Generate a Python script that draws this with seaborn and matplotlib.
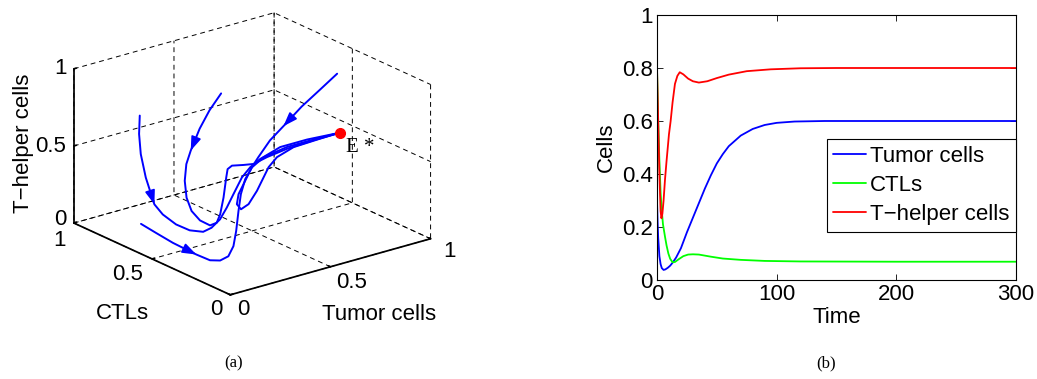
import numpy as np
import pandas as pd
import seaborn as sns
import matplotlib
matplotlib.use('Agg')
import matplotlib.pyplot as plt
from mpl_toolkits.mplot3d import proj3d

# ---- time series (panel b) ----
t_tumor = [0, 0.5, 1, 2, 3, 4, 5.5, 7, 9, 11, 13, 16, 20, 25, 30, 35, 40, 45, 50, 55, 60, 70, 80, 90, 100, 115, 140, 200, 300]
v_tumor = [0.30, 0.22, 0.16, 0.09, 0.06, 0.045, 0.038, 0.04, 0.046, 0.054, 0.065, 0.085, 0.12, 0.18, 0.235, 0.29, 0.345, 0.395, 0.44, 0.475, 0.505, 0.545, 0.57, 0.585, 0.593, 0.598, 0.60, 0.60, 0.60]

t_ctl = [0, 1, 2, 3, 4, 5, 6.7, 8, 9.5, 11, 13, 15, 18, 22, 26, 30, 35, 45, 55, 70, 90, 120, 200, 300]
v_ctl = [0.80, 0.60, 0.45, 0.33, 0.26, 0.21, 0.163, 0.13, 0.10, 0.08, 0.067, 0.068, 0.078, 0.09, 0.096, 0.097, 0.096, 0.088, 0.081, 0.076, 0.072, 0.070, 0.069, 0.069]

t_th = [0, 1, 2, 3, 3.7, 4.5, 5.5, 6.7, 8, 10, 11.4, 13, 15, 17, 19, 22, 26, 30, 35, 42, 50, 60, 75, 95, 120, 150, 200, 300]
v_th = [0.80, 0.60, 0.40, 0.26, 0.233, 0.25, 0.30, 0.38, 0.45, 0.55, 0.60, 0.67, 0.74, 0.77, 0.784, 0.776, 0.76, 0.75, 0.745, 0.75, 0.762, 0.775, 0.788, 0.795, 0.799, 0.80, 0.80, 0.80]

series_names = ['Tumor cells', 'CTLs', 'T\u2212helper cells']
series_colors = ['blue', '#00ff00', 'red']

# ---- phase trajectories (panel a): tumor (x), CTLs (y), T-helper (z) ----
traj_a_x = [0.924, 0.791, 0.653, 0.515, 0.409, 0.312, 0.248, 0.184, 0.127, 0.103, 0.112, 0.142, 0.18, 0.213, 0.238, 0.28, 0.367, 0.504, 0.6]
traj_a_y = [0.5, 0.44, 0.38, 0.32, 0.27, 0.22, 0.18, 0.14, 0.11, 0.09, 0.075, 0.065, 0.06, 0.06, 0.06, 0.06, 0.065, 0.07, 0.07]
traj_a_z = [0.865, 0.837, 0.806, 0.757, 0.727, 0.677, 0.653, 0.608, 0.555, 0.508, 0.479, 0.506, 0.581, 0.656, 0.713, 0.763, 0.794, 0.797, 0.8]

traj_b_x = [0.501, 0.404, 0.30, 0.193, 0.132, 0.085, 0.055, 0.041, 0.044, 0.055, 0.057, 0.051, 0.052, 0.05, 0.049, 0.063, 0.113, 0.159, 0.226, 0.33, 0.467, 0.6]
traj_b_y = [0.7, 0.65, 0.58, 0.5, 0.45, 0.4, 0.35, 0.3, 0.25, 0.2, 0.16, 0.13, 0.11, 0.09, 0.08, 0.07, 0.06, 0.055, 0.055, 0.06, 0.065, 0.07]
traj_b_z = [0.798, 0.747, 0.698, 0.632, 0.590, 0.522, 0.447, 0.389, 0.35, 0.337, 0.372, 0.443, 0.56, 0.701, 0.76, 0.782, 0.773, 0.765, 0.785, 0.799, 0.802, 0.8]

traj_c_x = [0.251, 0.232, 0.217, 0.203, 0.199, 0.194, 0.198, 0.188, 0.177, 0.156, 0.136, 0.123, 0.117, 0.136, 0.162, 0.204, 0.304, 0.438, 0.6]
traj_c_y = [0.9, 0.88, 0.85, 0.8, 0.74, 0.68, 0.6, 0.5, 0.4, 0.32, 0.24, 0.18, 0.13, 0.1, 0.08, 0.07, 0.07, 0.07, 0.07]
traj_c_z = [0.652, 0.549, 0.438, 0.314, 0.170, 0.134, 0.105, 0.117, 0.158, 0.229, 0.328, 0.437, 0.549, 0.665, 0.731, 0.774, 0.815, 0.815, 0.8]

traj_d_x = [0.14, 0.16, 0.143, 0.143, 0.133, 0.121, 0.123, 0.125, 0.123, 0.119, 0.123, 0.137, 0.167, 0.221, 0.338, 0.471, 0.6]
traj_d_y = [0.75, 0.68, 0.55, 0.4, 0.3, 0.22, 0.17, 0.14, 0.12, 0.1, 0.09, 0.08, 0.075, 0.07, 0.07, 0.07, 0.07]
traj_d_z = [0.06, 0.027, 0.029, 0.023, 0.036, 0.076, 0.126, 0.205, 0.313, 0.454, 0.566, 0.663, 0.731, 0.779, 0.803, 0.803, 0.8]

# index of the point where each trajectory carries its arrow head
arrow_idx = [3, 3, 4, 3]

trajectories = [(traj_a_x, traj_a_y, traj_a_z),
                (traj_b_x, traj_b_y, traj_b_z),
                (traj_c_x, traj_c_y, traj_c_z),
                (traj_d_x, traj_d_y, traj_d_z)]

eq_point = (0.6, 0.07, 0.8)

tick_vals = [0, 0.5, 1]
tick_text = ['0', '0.5', '1']

sns.set_theme(style='white')
plt.rcParams['font.family'] = ['Liberation Sans', 'DejaVu Sans']
plt.rcParams.update({'text.color': 'black', 'axes.labelcolor': 'black',
                     'xtick.color': 'black', 'ytick.color': 'black',
                     'axes.edgecolor': 'black'})

fs = 16

fig = plt.figure(figsize=(10.37, 3.79), dpi=100)

# ---------------- panel (a): 3D phase portrait ----------------
L = 400
cx, cy = 0.238, 0.58
ax3 = fig.add_axes([cx - L / 1037 / 2, cy - L / 379 / 2, L / 1037, L / 379], projection='3d')
ax3.set_proj_type('ortho')
ax3.view_init(elev=21, azim=-128)
ax3.set_box_aspect((1, 1, 0.65), zoom=0.96)
ax3.set_xlim(0, 1)
ax3.set_ylim(0, 1)
ax3.set_zlim(0, 1)
ax3.grid(True)

for axis in (ax3.xaxis, ax3.yaxis, ax3.zaxis):
    axis.set_pane_color((1, 1, 1, 0))
    axis.pane.set_edgecolor('black')
    axis.pane.set_linestyle((0, (5, 4)))
    axis.pane.set_linewidth(0.7)
    axis._axinfo['grid'].update(color='black', linestyle=(0, (5, 4)), linewidth=0.7)
    axis._axinfo['tick'].update(inward_factor=0.0, outward_factor=0.15)
    axis._axinfo['axisline'].update(color='black', linewidth=0.9)
    axis.set_ticks(tick_vals)
    for tk in axis.get_major_ticks():
        tk.label1.set_visible(False)
        tk.label2.set_visible(False)

M = ax3.get_proj()


def label3d(x, y, z, s, **kw):
    # put a flat text at the projected position of a 3D point
    px, py, _ = proj3d.proj_transform(x, y, z, M)
    return ax3.text2D(px, py, s, transform=ax3.transData, **kw)


# MATLAB-style tick labels placed next to the box edges
for v, s in zip(tick_vals, tick_text):
    label3d(v - 0.06 + 0.03 * v, -0.16 - 0.03 * (v == 0.5), 0, s, fontsize=fs, ha='center', va='center')
    label3d(-0.145 - 0.036 * (v == 0.5), v - 0.094 * (v == 0) - 0.077 * (v == 0.5) - 0.097 * (v == 1),
            -0.016 * (v == 1), s, fontsize=fs, ha='center', va='center')
    label3d(-0.067 - 0.05 * (v == 0.5), 1, v + 0.05 * (v == 0) + 0.042 * (v == 0.5) + 0.028 * (v == 1), s,
            fontsize=fs, ha='center', va='center')

for tx, ty, tz in trajectories:
    ax3.plot(tx, ty, tz, color='blue', lw=1.4)

for (tx, ty, tz), k in zip(trajectories, arrow_idx):
    x0, y0, _ = proj3d.proj_transform(tx[k - 1], ty[k - 1], tz[k - 1], M)
    x1, y1, _ = proj3d.proj_transform(tx[k], ty[k], tz[k], M)
    ax3.annotate('', xy=(x1, y1), xytext=(x0 + 0.5 * (x1 - x0), y0 + 0.5 * (y1 - y0)),
                 arrowprops=dict(arrowstyle='-|>,head_length=0.7,head_width=0.25',
                                 color='blue', lw=1.2, shrinkA=0, shrinkB=0))

ax3.plot([eq_point[0]], [eq_point[1]], [eq_point[2]], 'o', color='red', ms=7)
label3d(eq_point[0] + 0.03, eq_point[1], eq_point[2] - 0.045, 'E *',
        family='Liberation Serif', fontsize=15, ha='left', va='top')

# axis titles
label3d(0.331, -0.528, 0, 'Tumor cells', fontsize=fs, ha='center', va='center')
label3d(-0.461, 0.098, 0, 'CTLs', fontsize=fs, ha='center', va='center')
ax3.zaxis.set_rotate_label(False)
ax3.set_zlabel('T\u2212helper cells', fontsize=fs, rotation=90, labelpad=0)

# ---------------- panel (b): time series ----------------
ax2 = fig.add_axes([657 / 1037, 1 - 280 / 379, 359 / 1037, 265 / 379])

df = pd.concat([
    pd.DataFrame({'Time': t_tumor, 'Cells': v_tumor, 'series': series_names[0]}),
    pd.DataFrame({'Time': t_ctl, 'Cells': v_ctl, 'series': series_names[1]}),
    pd.DataFrame({'Time': t_th, 'Cells': v_th, 'series': series_names[2]}),
], ignore_index=True)

sns.lineplot(data=df, x='Time', y='Cells', hue='series', hue_order=series_names,
             palette=dict(zip(series_names, series_colors)), estimator=None,
             sort=False, lw=1.3, ax=ax2)

ax2.set_xlim(0, 300)
ax2.set_ylim(0, 1)
ax2.set_xticks([0, 100, 200, 300])
ax2.set_yticks([0, 0.2, 0.4, 0.6, 0.8, 1])
ax2.set_yticklabels(['0', '0.2', '0.4', '0.6', '0.8', '1'])
ax2.tick_params(direction='in', top=True, right=True, bottom=True, left=True,
                labeltop=False, labelright=False,
                length=4, width=0.6, labelsize=fs, pad=3)
for s in ax2.spines.values():
    s.set_color('black')
    s.set_linewidth(0.8)
ax2.set_xlabel('Time', fontsize=fs, labelpad=1)
ax2.set_ylabel('Cells', fontsize=fs, labelpad=4)

sns.move_legend(ax2, 'upper right', bbox_to_anchor=(1.0, 0.531), title=None,
                frameon=True, fancybox=False, framealpha=1, edgecolor='black',
                fontsize=fs, borderaxespad=0, handlelength=1.45, handletextpad=0.2,
                labelspacing=0.36, borderpad=0.3)
ax2.get_legend().get_frame().set_linewidth(0.8)

fig.text(0.2256, 0.040, '(a)', family='Liberation Serif', fontsize=12, ha='center', va='center')
fig.text(0.7965, 0.040, '(b)', family='Liberation Serif', fontsize=12, ha='center', va='center')

fig.savefig('out.png', dpi=100)
